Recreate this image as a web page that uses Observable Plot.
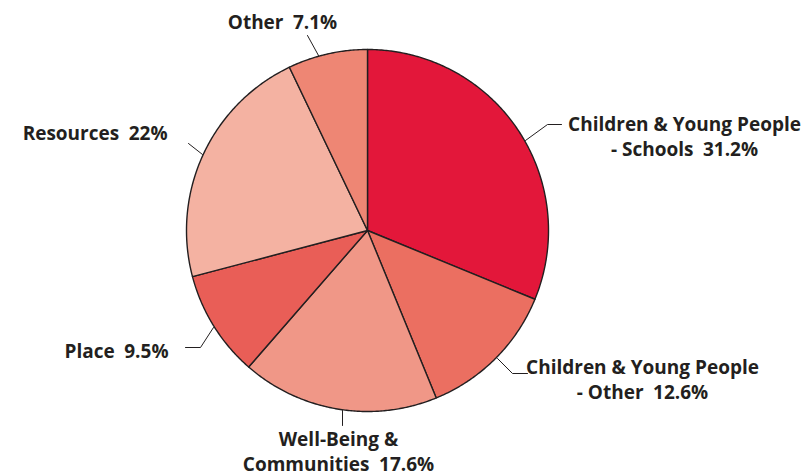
<!DOCTYPE html>
<html>
<head>
<meta charset="utf-8">
<script src="https://cdn.jsdelivr.net/npm/d3@7"></script>
<script src="https://cdn.jsdelivr.net/npm/@observablehq/plot@0.6"></script>
<style>
  html, body { margin: 0; padding: 0; background: #fff; }
  #chart svg { display: block; }
</style>
</head>
<body>
<div id="chart"></div>
<script>
// ---- data ----
const categories = [
  "Children & Young People - Schools",
  "Children & Young People - Other",
  "Well-Being & Communities",
  "Place",
  "Resources",
  "Other"
];
const values = [31.2, 12.6, 17.6, 9.5, 22, 7.1];
const labelNames = [
  ["Children & Young People", "- Schools"],
  ["Children & Young People", "- Other"],
  ["Well-Being &", "Communities"],
  ["Place"],
  ["Resources"],
  ["Other"]
];
const colors = ["#E3173A", "#EB6F61", "#F09787", "#E95E57", "#F4B2A2", "#EE8674"];

// ---- layout ----
const W = 805, H = 475, CX = 367, CY = 230, R = 181;
const FONT = "Open Sans";
const FS = 19;
const ink = "#231F20";
const ux = px => (px - CX) / R;
const uy = py => (CY - py) / R;

// label placement (pixels): anchor point = baseline of last line
const labelLayout = [
  {x: 684, y: 155, anchor: "middle"},
  {x: 642, y: 398, anchor: "middle"},
  {x: 338, y: 470, anchor: "middle"},
  {x: 168, y: 357, anchor: "end"},
  {x: 167, y: 139, anchor: "end"},
  {x: 282, y: 28, anchor: "middle"}
];
const leaderLayout = [
  [[525, 140], [547, 124], [561, 124]],
  [[497, 358], [512, 373], [527, 373]],
  [[342, 410], [342, 425]],
  [[213, 327], [200, 347], [185, 347]],
  [[202, 154], [188, 143]],
  [[318, 55], [307, 35]]
];

// ---- slices from values ----
const total = d3.sum(values);
const slices = [];
let acc = 0;
values.forEach((v, i) => {
  const a0 = acc / total * 2 * Math.PI;
  acc += v;
  const a1 = acc / total * 2 * Math.PI;
  const pts = [{x: 0, y: 0}];
  const n = Math.max(2, Math.ceil((a1 - a0) / (Math.PI / 360)));
  for (let k = 0; k <= n; k++) {
    const a = a0 + (a1 - a0) * k / n;
    pts.push({x: Math.sin(a), y: Math.cos(a)});
  }
  pts.push({x: 0, y: 0});
  slices.push({name: categories[i], color: colors[i], pts});
});

const labels = categories.map((c, i) => {
  const lines = labelNames[i].slice();
  lines[lines.length - 1] = lines[lines.length - 1] + "\u2002" + values[i] + "%";
  return {name: c, text: lines.join("\n"), x: ux(labelLayout[i].x), y: uy(labelLayout[i].y), anchor: labelLayout[i].anchor};
});

const leaders = leaderLayout.flatMap((pts, i) => pts.map(([px, py]) => ({name: categories[i], x: ux(px), y: uy(py)})));

const marks = [
  ...slices.map(s => Plot.line(s.pts, {x: "x", y: "y", fill: s.color, stroke: ink, strokeWidth: 1.4, strokeLinejoin: "round"})),
  Plot.line(leaders, {x: "x", y: "y", z: "name", stroke: ink, strokeWidth: 1}),
  ...["middle", "end"].map(anchor => Plot.text(labels.filter(d => d.anchor === anchor), {
    x: "x", y: "y", text: "text", textAnchor: anchor, lineAnchor: "bottom", lineHeight: 25 / FS,
    fill: ink, fontSize: FS, fontWeight: 700, fontFamily: FONT
  }))
];

const chart = Plot.plot({
  width: W, height: H,
  margin: 0,
  x: {domain: [ux(0), ux(W)], range: [0, W], axis: null},
  y: {domain: [uy(0), uy(H)], range: [0, H], axis: null},
  style: {background: "#fff", fontFamily: FONT},
  marks
});
document.getElementById("chart").appendChild(chart);
</script>
</body>
</html>
